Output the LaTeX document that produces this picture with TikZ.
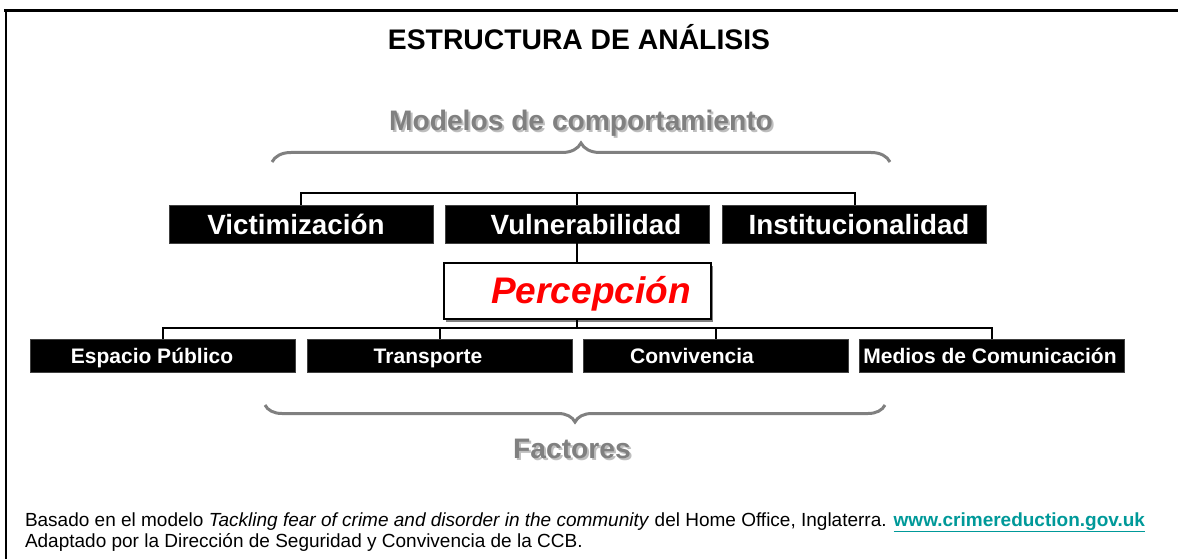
\documentclass[tikz,border=0pt]{standalone}
\usepackage{fontspec}
\setmainfont{Liberation Sans}
\usetikzlibrary{positioning, decorations.pathreplacing, shadows}
\definecolor{titgray}{RGB}{128,128,128}
\definecolor{shdgray}{RGB}{190,190,190}
\definecolor{linkteal}{RGB}{0,153,153}

\begin{document}
\begin{tikzpicture}[x=1pt,y=1pt]
        \tikzset{
          every node/.style={inner sep=0pt, outer sep=0pt},
          blackbox/.style={fill=black, draw=black!75, line width=1},
          topbox/.style={blackbox, minimum width=264, minimum height=38},
          botbox/.style={blackbox, minimum width=265, minimum height=33},
          toptxt/.style={anchor=base, text=white, font=\fontsize{27.8}{32}\selectfont\bfseries},
          bottxt/.style={anchor=base, text=white, font=\fontsize{21}{25}\selectfont\bfseries},
          graytxt/.style={anchor=base, text=titgray, font=\fontsize{28.2}{33}\selectfont\bfseries},
          shadetxt/.style={graytxt, text=shdgray},
          perbox/.style={draw=black, line width=2, fill=white, minimum width=267, minimum height=56,
            general shadow={fill=gray, shadow xshift=2.5pt, shadow yshift=-2.5pt}},
          conn/.style={black, line width=2},
          bracegray/.style={titgray, line width=3, decorate, decoration={brace, amplitude=#1, aspect=0.5}},
          foot/.style={anchor=base west, font=\fontsize{19}{23}\selectfont}
        }
        \useasboundingbox (0,0) rectangle (1178,-559);
        % frame
        \draw [black, line width=2] (6,-559) -- (6,-11);
        \draw [black, line width=3] (4,-11) -- (1178,-11);
        \node [anchor=base, font=\fontsize{28.3}{34}\selectfont\bfseries] (title) at (579,-50) {ESTRUCTURA DE ANÁLISIS};
        % modelos de comportamiento
        \node [shadetxt] (mod-s) at (583,-133) {Modelos de comportamiento};
        \node [graytxt] (mod) at (581,-131) {Modelos de comportamiento};
        \draw [bracegray=19] (272,-162) -- (890,-162);
        % top row
        \node [topbox] (vic) at (301,-224) {};
        \node [topbox] (vul) at (577,-224) {};
        \node [topbox] (inst) at (854.5,-224) {};
        \node [toptxt] (vic-t) at (296,-234) {Victimización};
        \node [toptxt] (vul-t) at (586,-234) {Vulnerabilidad};
        \node [toptxt] (inst-t) at (859,-234) {Institucionalidad};
        \coordinate (topbus) at (577,-193);
        \draw [conn] (vic.north) |- (topbus) -| (inst.north);
        \draw [conn] (vul.north) -- (vul.north |- topbus);
        % percepcion
        \node [perbox] (per) at (577,-291) {};
        \node [anchor=base, text=red, font=\fontsize{37}{44}\selectfont\bfseries\itshape] (per-t) at (591,-303) {Percepción};
        \draw [conn] (vul.south) -- (per.north);
        % bottom row
        \node [botbox] (esp) at (163,-355.5) {};
        \node [botbox] (tra) at (439.5,-355.5) {};
        \node [botbox] (con) at (716,-355.5) {};
        \node [botbox] (med) at (991.5,-355.5) {};
        \node [bottxt] (esp-t) at (152,-363) {Espacio Público};
        \node [bottxt] (tra-t) at (428,-363) {Transporte};
        \node [bottxt] (con-t) at (692,-363) {Convivencia};
        \node [bottxt] (med-t) at (990,-363) {Medios de Comunicación};
        \coordinate (botbus) at (577,-328);
        \draw [conn] (esp.north) |- (botbus) -| (med.north);
        \draw [conn] (per.south) -- (per.south |- botbus);
        \draw [conn] (tra.north) -- (tra.north |- botbus);
        \draw [conn] (con.north) -- (con.north |- botbus);
        % factores
        \draw [bracegray=17] (885,-405) -- (265,-405);
        \node [shadetxt] (fac-s) at (574,-460) {Factores};
        \node [graytxt] (fac) at (572,-458) {Factores};
        % footer
        \node [foot] (src) at (25,-526) {Basado en el modelo \textit{Tackling fear of crime and disorder in the community} del Home Office, Inglaterra. {\bfseries\color{linkteal}\underline{www.crimereduction.gov.uk}}};
        \node [foot] (adp) at (25,-547) {Adaptado por la Dirección de Seguridad y Convivencia de la CCB.};
\end{tikzpicture}
\end{document}
